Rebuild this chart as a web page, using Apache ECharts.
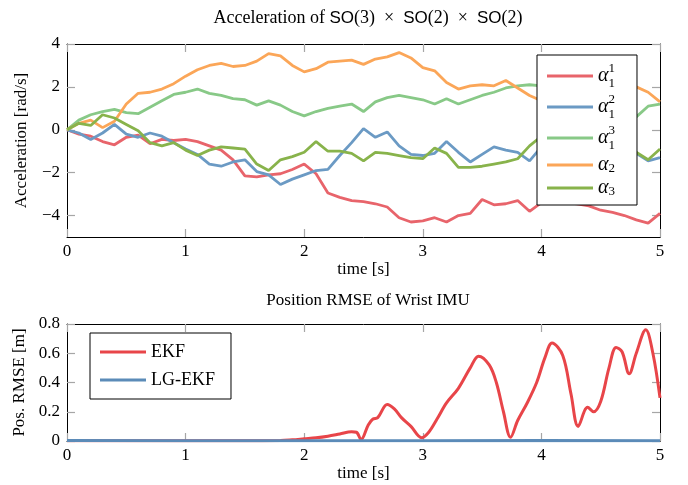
<!DOCTYPE html>
<html lang="en">
<head>
    <meta charset="UTF-8">
    <title>Acceleration and RMSE</title>
    <script src="https://cdn.jsdelivr.net/npm/echarts@6/dist/echarts.min.js"></script>
    <style>
        html, body { margin: 0; padding: 0; background: #fff; }
        #main { width: 688px; height: 485px; }
    </style>
</head>
<body>
<div id="main"></div>
<script type="text/javascript">
    // 时间轴 (上图, 每 0.1 s 一个点)
    var tTop = [0, 0.1, 0.2, 0.3, 0.4, 0.5, 0.6, 0.7, 0.8, 0.9,
        1.0, 1.1, 1.2, 1.3, 1.4, 1.5, 1.6, 1.7, 1.8, 1.9,
        2.0, 2.1, 2.2, 2.3, 2.4, 2.5, 2.6, 2.7, 2.8, 2.9,
        3.0, 3.1, 3.2, 3.3, 3.4, 3.5, 3.6, 3.7, 3.8, 3.9,
        4.0, 4.1, 4.2, 4.3, 4.4, 4.5, 4.6, 4.7, 4.8, 4.9, 5.0];

    var alpha11 = [0, -0.2, -0.3, -0.55, -0.7, -0.35, -0.25, -0.65, -0.45, -0.5,
        -0.45, -0.55, -0.75, -0.95, -1.4, -2.15, -2.2, -2.1, -2.05, -1.85,
        -1.6, -2.05, -2.95, -3.15, -3.3, -3.35, -3.45, -3.6, -4.1, -4.3,
        -4.25, -4.1, -4.3, -4.0, -3.9, -3.25, -3.5, -3.45, -3.3, -3.8,
        -3.4, -3.3, -3.4, -3.45, -3.55, -3.75, -3.85, -4.0, -4.2, -4.35, -3.9];
    var alpha12 = [0, -0.15, -0.45, -0.15, 0.25, -0.2, -0.35, -0.15, -0.3, -0.6,
        -0.9, -1.15, -1.6, -1.7, -1.5, -1.4, -1.95, -2.1, -2.55, -2.3,
        -2.1, -1.9, -1.85, -1.2, -0.6, 0.05, -0.35, -0.1, -0.75, -1.15,
        -1.2, -1.1, -0.55, -1.05, -1.5, -1.15, -0.8, -0.95, -1.05, -1.45,
        -0.8, -0.9, -1.1, -0.9, -1.2, -1.0, -1.15, -1.0, -1.1, -1.45, -1.3];
    var alpha13 = [0, 0.45, 0.7, 0.85, 0.95, 0.8, 0.75, 1.05, 1.35, 1.65,
        1.75, 1.9, 1.7, 1.6, 1.45, 1.4, 1.15, 1.35, 1.15, 0.85,
        0.65, 0.85, 1.0, 1.1, 1.2, 0.85, 1.3, 1.5, 1.6, 1.5,
        1.4, 1.2, 1.45, 1.2, 1.4, 1.6, 1.75, 1.95, 2.05, 2.1,
        2.05, 2.0, 1.85, 1.7, 1.5, 1.25, 1.0, 0.75, 0.6, 1.1, 1.2];
    var alpha2 = [0, 0.3, 0.45, 0.1, 0.4, 1.2, 1.7, 1.75, 1.9, 2.15,
        2.5, 2.8, 3.0, 3.1, 2.95, 3.0, 3.2, 3.55, 3.45, 3.0,
        2.7, 2.85, 3.15, 3.2, 3.25, 3.05, 3.3, 3.4, 3.6, 3.35,
        2.9, 2.75, 2.2, 1.9, 2.05, 2.1, 2.05, 2.3, 1.95, 1.6,
        1.35, 1.4, 1.6, 1.5, 1.7, 1.8, 1.75, 1.95, 2.0, 1.75, 1.3];
    var alpha3 = [0, 0.3, 0.2, 0.7, 0.55, 0.25, -0.05, -0.6, -0.75, -0.6,
        -0.95, -1.2, -0.95, -0.8, -0.85, -0.9, -1.6, -1.9, -1.4, -1.25,
        -1.05, -0.55, -1.0, -1.0, -1.1, -1.45, -1.05, -1.1, -1.2, -1.3,
        -1.35, -0.85, -1.1, -1.75, -1.75, -1.7, -1.6, -1.5, -1.35, -0.75,
        -0.3, -0.2, -0.3, -0.5, -0.45, -0.7, -0.8, -0.95, -1.05, -1.4, -0.9];

    // 下图: 位置 RMSE
    var tEkf = [0, 0.5, 1.0, 1.5, 1.8, 1.9, 2.0, 2.1, 2.2, 2.3,
        2.4, 2.44, 2.48, 2.54, 2.58, 2.62, 2.7, 2.76, 2.82, 2.9,
        2.99, 3.05, 3.12, 3.2, 3.3, 3.4, 3.47, 3.56, 3.62, 3.68,
        3.74, 3.8, 3.88, 3.96, 4.03, 4.09, 4.18, 4.25, 4.31, 4.39,
        4.44, 4.5, 4.57, 4.63, 4.68, 4.74, 4.8, 4.88, 4.94, 5.0];
    var ekf = [0.002, 0.002, 0.002, 0.002, 0.003, 0.008, 0.015, 0.022, 0.033, 0.048,
        0.063, 0.06, 0.01, 0.11, 0.15, 0.16, 0.25, 0.22, 0.16, 0.1,
        0.022, 0.06, 0.15, 0.26, 0.36, 0.5, 0.58, 0.52, 0.4, 0.2,
        0.025, 0.14, 0.26, 0.4, 0.57, 0.67, 0.585, 0.32, 0.1, 0.23,
        0.2, 0.27, 0.5, 0.64, 0.61, 0.46, 0.6, 0.76, 0.6, 0.295];
    var tLg = [0, 1, 2, 3, 4, 5];
    var lgEkf = [0.003, 0.002, 0.002, 0.002, 0.003, 0.002];

    var topNames = ['α11', 'α12', 'α13', 'α2', 'α3'];
    var topValues = [alpha11, alpha12, alpha13, alpha2, alpha3];
    var topColors = ['#e8646b', '#6b9ac4', '#88c987', '#fba658', '#88b34b'];
    var legendRich = {
        'α11': '{a|α}{sup|1}{sub|1}',
        'α12': '{a|α}{sup|2}{sub|1}',
        'α13': '{a|α}{sup|3}{sub|1}',
        'α2': '{b|α}{low|2}',
        'α3': '{b|α}{low|3}'
    };

    function pairs(xs, ys) {
        var out = [];
        for (var i = 0; i < xs.length; i++) out.push([xs[i], ys[i]]);
        return out;
    }

    var serif = 'Liberation Serif';
    var tickLabel = { fontFamily: serif, fontSize: 17, color: '#000' };
    var tickStyle = { show: true, inside: true, length: 8, lineStyle: { color: '#a6a6a6', width: 1.2 } };
    var frame = { show: true, onZero: false, lineStyle: { color: '#000', width: 1 } };

    function minus(v) {
        return v < 0 ? '\u2212' + Math.abs(v) : String(v);
    }

    var chart = echarts.init(document.getElementById('main'));

    var series = [];
    for (var k = 0; k < topNames.length; k++) {
        series.push({
            name: topNames[k],
            type: 'line',
            xAxisIndex: 0,
            yAxisIndex: 0,
            showSymbol: false,
            color: topColors[k],
            lineStyle: { width: 2.8, color: topColors[k] },
            data: pairs(tTop, topValues[k])
        });
    }
    series.push({
        name: 'EKF',
        type: 'line',
        xAxisIndex: 2,
        yAxisIndex: 2,
        showSymbol: false,
        smooth: 0.35,
        color: '#e84549',
        lineStyle: { width: 3, color: '#e84549' },
        data: pairs(tEkf, ekf)
    });
    series.push({
        name: 'LG-EKF',
        type: 'line',
        xAxisIndex: 2,
        yAxisIndex: 2,
        showSymbol: false,
        color: '#5b8bb8',
        lineStyle: { width: 3, color: '#5b8bb8' },
        data: pairs(tLg, lgEkf)
    });

    chart.setOption({
        animation: false,
        backgroundColor: '#fff',
        title: [{
            text: '{t|Acceleration of }{s|SO}{t|(3)  ×  }{s|SO}{t|(2)  ×  }{s|SO}{t|(2)}',
            left: 363, top: 4, textAlign: 'center',
            textStyle: {
                fontWeight: 'normal',
                rich: {
                    t: { fontFamily: serif, fontSize: 18, fontWeight: 'normal', color: '#000' },
                    s: { fontFamily: 'Liberation Sans', fontSize: 17, fontWeight: 'normal', color: '#000' }
                }
            }
        }, {
            text: 'Position RMSE of Wrist IMU',
            left: 363, top: 287, textAlign: 'center',
            textStyle: { fontFamily: serif, fontSize: 17, fontWeight: 'normal', color: '#000' }
        }],
        grid: [
            { left: 67, top: 44, width: 593, height: 193 },
            { left: 67, top: 324, width: 593, height: 117 }
        ],
        legend: [{
            data: topNames,
            orient: 'vertical',
            left: 537, top: 55,
            padding: [7, 22, 7, 10],
            itemGap: 3,
            itemWidth: 46, itemHeight: 3,
            icon: 'rect',
            backgroundColor: '#fff',
            borderColor: '#000', borderWidth: 1, borderRadius: 0,
            formatter: function (name) { return legendRich[name]; },
            textStyle: {
                rich: {
                    a: { fontFamily: serif, fontStyle: 'italic', fontSize: 20, lineHeight: 28, color: '#000' },
                    sup: { fontFamily: serif, fontSize: 13, lineHeight: 12, width: 0, verticalAlign: 'top', color: '#000' },
                    sub: { fontFamily: serif, fontSize: 13, lineHeight: 12, verticalAlign: 'bottom', color: '#000' },
                    b: { fontFamily: serif, fontStyle: 'italic', fontSize: 20, lineHeight: 20, color: '#000' },
                    low: { fontFamily: serif, fontSize: 13, lineHeight: 10, verticalAlign: 'bottom', color: '#000' }
                }
            }
        }, {
            data: ['EKF', 'LG-EKF'],
            orient: 'vertical',
            left: 90, top: 333,
            padding: [9, 16, 9, 10],
            itemGap: 8,
            itemWidth: 46, itemHeight: 3,
            icon: 'rect',
            backgroundColor: '#fff',
            borderColor: '#000', borderWidth: 1, borderRadius: 0,
            textStyle: { fontFamily: serif, fontSize: 18, lineHeight: 20, color: '#000' }
        }],
        xAxis: [{
            gridIndex: 0, type: 'value', min: 0, max: 5, interval: 1,
            name: 'time [s]', nameLocation: 'middle', nameGap: 24,
            nameTextStyle: { fontFamily: serif, fontSize: 17, color: '#000' },
            axisLine: frame, axisTick: tickStyle,
            axisLabel: Object.assign({ margin: 6 }, tickLabel),
            splitLine: { show: false }
        }, {
            gridIndex: 0, type: 'value', min: 0, max: 5, interval: 1, position: 'top',
            axisLine: frame, axisTick: tickStyle, axisLabel: { show: false }, splitLine: { show: false }
        }, {
            gridIndex: 1, type: 'value', min: 0, max: 5, interval: 1,
            name: 'time [s]', nameLocation: 'middle', nameGap: 24,
            nameTextStyle: { fontFamily: serif, fontSize: 17, color: '#000' },
            axisLine: frame, axisTick: tickStyle,
            axisLabel: Object.assign({ margin: 6 }, tickLabel),
            splitLine: { show: false }
        }, {
            gridIndex: 1, type: 'value', min: 0, max: 5, interval: 1, position: 'top',
            axisLine: frame, axisTick: tickStyle, axisLabel: { show: false }, splitLine: { show: false }
        }],
        yAxis: [{
            gridIndex: 0, type: 'value', min: -5, max: 4,
            name: 'Acceleration [rad/s]', nameLocation: 'middle', nameGap: 37,
            nameTextStyle: { fontFamily: serif, fontSize: 17, color: '#000' },
            axisLine: frame,
            axisTick: Object.assign({ customValues: [-4, -2, 0, 2, 4] }, tickStyle),
            axisLabel: Object.assign({ margin: 7, customValues: [-4, -2, 0, 2, 4], formatter: minus }, tickLabel),
            splitLine: { show: false }
        }, {
            gridIndex: 0, type: 'value', min: -5, max: 4, position: 'right',
            axisLine: frame,
            axisTick: Object.assign({ customValues: [-4, -2, 0, 2, 4] }, tickStyle),
            axisLabel: { show: false }, splitLine: { show: false }
        }, {
            gridIndex: 1, type: 'value', min: 0, max: 0.8, interval: 0.2,
            name: 'Pos. RMSE [m]', nameLocation: 'middle', nameGap: 37,
            nameTextStyle: { fontFamily: serif, fontSize: 17, color: '#000' },
            axisLine: frame, axisTick: tickStyle,
            axisLabel: Object.assign({ margin: 7 }, tickLabel),
            splitLine: { show: false }
        }, {
            gridIndex: 1, type: 'value', min: 0, max: 0.8, interval: 0.2, position: 'right',
            axisLine: frame, axisTick: tickStyle, axisLabel: { show: false }, splitLine: { show: false }
        }],
        series: series
    });
</script>
</body>
</html>
